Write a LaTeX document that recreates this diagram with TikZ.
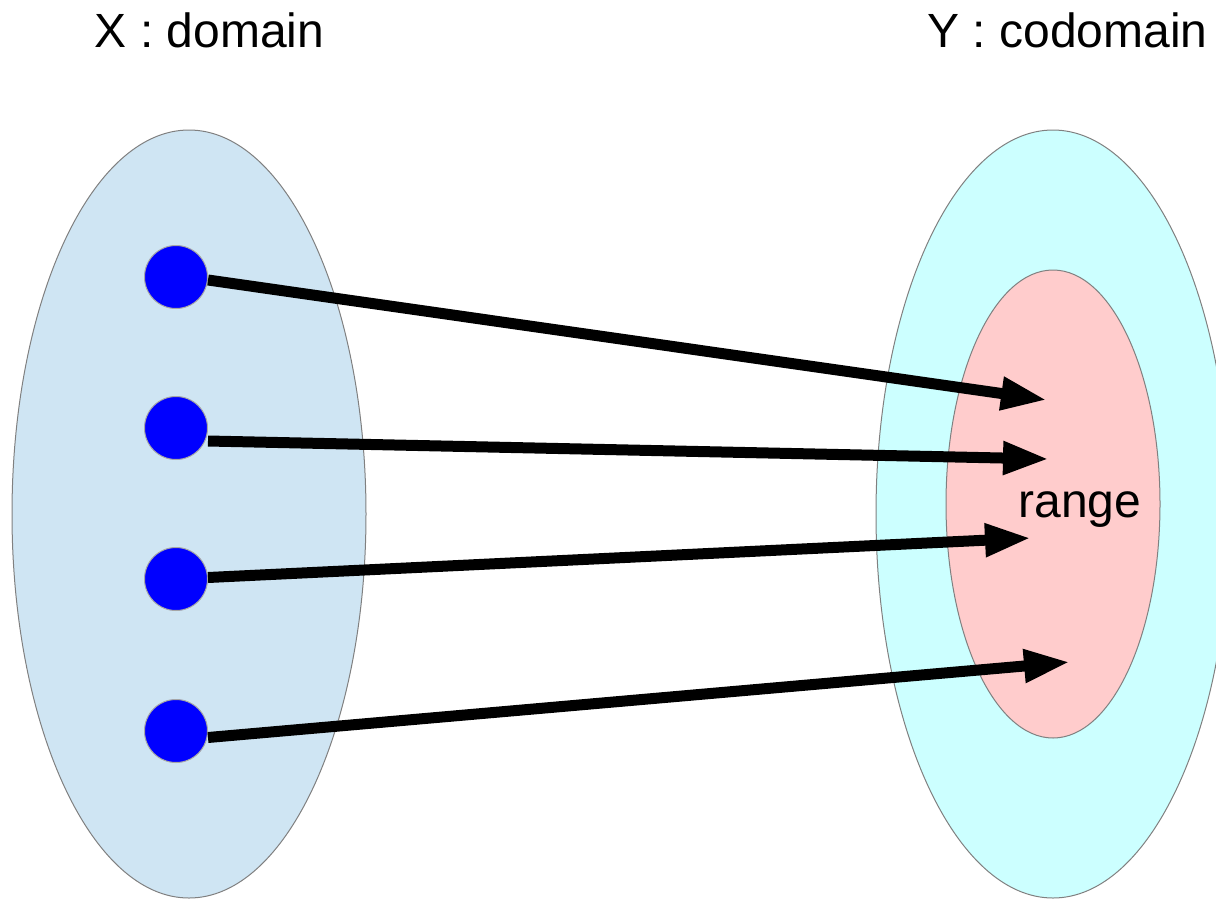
\documentclass[tikz,border=0pt]{standalone}
\usepackage{fontspec}
\setmainfont{Liberation Sans}
\usetikzlibrary{shapes.geometric,arrows.meta}
\definecolor{domfill}{HTML}{CFE5F3}
\definecolor{codfill}{HTML}{CCFFFF}
\definecolor{rngfill}{HTML}{FFCCCC}
\begin{document}
\begin{tikzpicture}[x=1pt,y=-1pt,
  setshape/.style={ellipse,draw=gray,line width=1pt,inner sep=0pt},
  elem/.style={circle,draw=gray!70,line width=1pt,fill=blue,inner sep=0pt,minimum size=63pt},
  maparrow/.style={line width=11pt,-{Triangle[length=46pt,width=31pt]}},
  title/.style={font=\fontsize{48pt}{57pt}\selectfont,anchor=base,inner sep=0pt}]
\useasboundingbox (0,0) rectangle (1216,898);
\clip (0,0) rectangle (1216,898);

% sets
\node[setshape,fill=domfill,minimum width=354pt,minimum height=768pt] (X) at (189,514) {};
\node[setshape,fill=codfill,minimum width=354pt,minimum height=768pt] (Y) at (1053,514) {};
\node[setshape,fill=rngfill,minimum width=214pt,minimum height=468pt] (R) at (1053,504) {};

% labels
\node[title] (xl) at (209.5,47) {X : domain};
\node[title] (yl) at (1067.5,47) {Y : codomain};
\node[title] (rl) at (1080,517) {range};

% elements of the domain
\node[elem] (d1) at (176,277) {};
\node[elem] (d2) at (176,428) {};
\node[elem] (d3) at (176,579) {};
\node[elem] (d4) at (176,731) {};

% images in the range
\coordinate (t1) at (1047,400);
\coordinate (t2) at (1049,459);
\coordinate (t3) at (1031,538);
\coordinate (t4) at (1070,662);

% mapping arrows
\draw[maparrow] ([yshift=-3pt]d1.east) -- (t1);
\draw[maparrow] ([yshift=-13pt]d2.east) -- (t2);
\draw[maparrow] ([yshift=1.5pt]d3.east) -- (t3);
\draw[maparrow] ([yshift=-6.5pt]d4.east) -- (t4);
\end{tikzpicture}
\end{document}
